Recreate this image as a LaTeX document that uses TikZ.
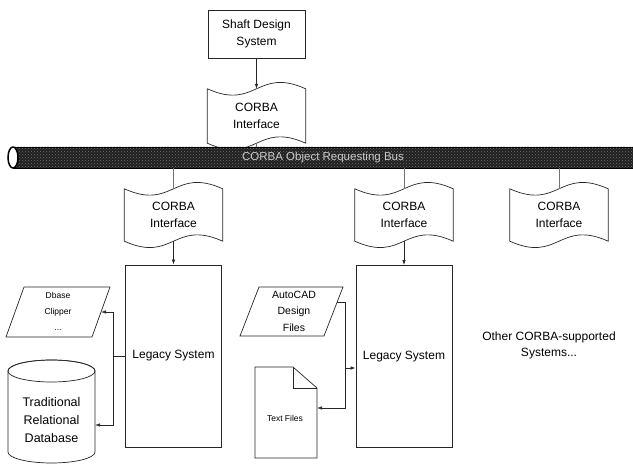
\documentclass[tikz,border=0pt]{standalone}
\usepackage{fontspec}
\setmainfont{Liberation Sans}
\usetikzlibrary{arrows.meta,patterns,calc,shapes.geometric}
\newcommand\mytape[1]{\draw[ln] (#1.north west) .. controls +(49,22) and +(-49,-22) .. (#1.north east) -- (#1.south east) .. controls +(-49,-22) and +(49,22) .. (#1.south west) -- cycle;}
\begin{document}
\begin{tikzpicture}[x=1pt,y=-1pt,
 ln/.style={draw=black!85,line width=0.7pt},
 gln/.style={draw=black!55,line width=0.8pt},
 arr/.style={ln,-{Latex[length=5pt,width=3.5pt]}},
 lbl/.style={align=center,inner sep=0pt,font=\fontsize{12}{17}\selectfont},
 sysbox/.style={lbl,draw=black!85,line width=0.8pt,minimum width=97pt,minimum height=48pt},
 tapenode/.style={lbl,minimum width=98pt,minimum height=52pt},
 legacy/.style={lbl,draw=black!85,line width=0.8pt,minimum width=96pt,minimum height=182pt},
 busnode/.style={minimum width=620pt,minimum height=21pt,inner sep=0pt,draw=black,line width=0.8pt,
   preaction={fill=black!88},pattern=crosshatch dots,pattern color=black!55,
   text=white!80!black,font=\fontsize{11.5}{14}\selectfont},
]
\useasboundingbox (0,0) rectangle (633,465);

% top system
\node[sysbox] (shaft) at (256.5,34) {Shaft Design\\System};
\node[tapenode,minimum height=54pt] (tTop) at (256.5,116) {CORBA\\Interface};
\mytape{tTop}

% bus
\node[busnode] (bus) at (323,157.5) {CORBA Object Requesting Bus};
\node[draw=black,line width=1.5pt,fill=white,ellipse,minimum width=10pt,minimum height=21pt,inner sep=0pt] (cap) at (13,157.5) {};

% lower interfaces
\node[tapenode] (tL) at (173.5,215) {CORBA\\Interface};
\node[tapenode] (tM) at (404,215) {CORBA\\Interface};
\node[tapenode] (tR) at (559,215) {CORBA\\Interface};
\mytape{tL}
\mytape{tM}
\mytape{tR}

% legacy systems
\node[legacy] (legL) at (173.5,356) {Legacy System};
\node[legacy] (legM) at (404,356.5) {Legacy System};

% left data stores
\draw[ln] (24,287) -- (110,287) -- (92,337) -- (6,337) -- cycle;
\node[align=center,inner sep=0pt,font=\fontsize{8.5}{16}\selectfont] (dbase) at (58,311) {Dbase\\Clipper\\...};
\draw[ln,fill=white] (8,371) -- (8,452) arc[start angle=180,end angle=0,x radius=43.5,y radius=11] -- (95,371) arc[start angle=0,end angle=-180,x radius=43.5,y radius=11] -- cycle;
\draw[ln] (51.5,371) ellipse[x radius=43.5,y radius=11];
\node[align=center,inner sep=0pt,font=\fontsize{12.5}{18}\selectfont] (rdb) at (51.5,420) {Traditional\\Relational\\Database};

% middle data stores
\draw[ln] (259,287) -- (343,287) -- (324,336) -- (240,336) -- cycle;
\node[align=center,inner sep=0pt,font=\fontsize{10.5}{16.5}\selectfont] (acad) at (294,311) {AutoCAD\\Design\\Files};
\draw[ln] (255,367) -- (293,367) -- (317,388) -- (317,458) -- (255,458) -- cycle;
\draw[ln] (293,367) -- (293,388) -- (317,388);
\node[inner sep=0pt,font=\fontsize{8.5}{10}\selectfont] (tfiles) at (285,418) {Text Files};

% other
\node[lbl,font=\fontsize{12}{16}\selectfont] (other) at (549,345) {Other CORBA-supported\\Systems...};

% connectors
\draw[arr] (shaft.south) -- (tTop.north);
\draw[gln] (tTop.south) -- (tTop.south |- bus.north);
\foreach \t in {tL,tM,tR}{\draw[gln] (\t.north |- bus.south) -- (\t.north);}
\draw[arr] (tL.south) -- (legL.north);
\draw[arr] (tM.south) -- (legM.north);

\coordinate (jL) at (113,356);
\coordinate (dbR) at (101,312);
\coordinate (cylR) at (95,425);
\draw[ln] (legL.west) -- (jL);
\draw[arr] (jL) |- (dbR);
\draw[arr] (jL) |- (cylR);

\coordinate (acR) at (337,302);
\coordinate (jM) at (345,302);
\coordinate (jM2) at (345,368);
\coordinate (jM3) at (345,408);
\coordinate (docR) at (317,408);
\draw[arr] (acR) -- (jM) -- (jM3) -- (docR);
\draw[arr] (jM2) -- (legM.west |- jM2);
\end{tikzpicture}
\end{document}
